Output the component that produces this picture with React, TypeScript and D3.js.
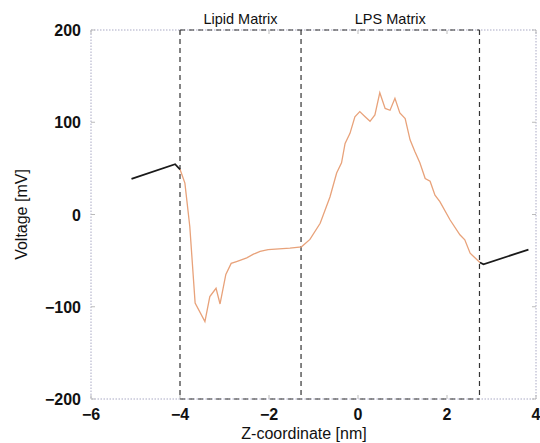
import React from 'react';
import * as d3 from 'd3';

// values
const leftX = [-5.09, -4.11, -4.0];
const leftY = [38.6, 54.5, 49];

const midX = [-4.0, -3.89, -3.78, -3.66, -3.44, -3.33, -3.19, -3.1, -2.97, -2.85, -2.73, -2.5, -2.35, -2.2, -2.02,
  -1.53, -1.27, -1.08, -0.85, -0.63, -0.48, -0.37, -0.29, -0.18, -0.07, 0.04, 0.16, 0.27, 0.38, 0.49, 0.61, 0.72,
  0.83, 0.94, 1.06, 1.17, 1.28, 1.39, 1.51, 1.62, 1.73, 1.84, 2.07, 2.29, 2.4, 2.52, 2.74];
const midY = [49, 34, -13, -96, -116, -89, -80, -97, -65, -53, -51, -47, -43, -40, -38,
  -36.5, -35, -27, -9.5, 19, 45, 56, 77, 88, 106, 111.5, 106, 101, 108, 132, 115, 113,
  126, 110, 104, 81, 68, 56, 39, 36, 21, 14, -6, -22, -27.5, -42, -52];

const rightX = [2.74, 2.82, 3.83];
const rightY = [-52, -54, -38];

const regionNames = ['Lipid Matrix', 'LPS Matrix'];
const regionEdges = [-4.0, -1.28, 2.73];

const xTicks = [-6, -4, -2, 0, 2, 4];
const yTicks = [-200, -100, 0, 100, 200];

const W = 540;
const H = 443;
const left = 91;
const right = 536;
const top = 30;
const bottom = 399;
const font = 'Liberation Sans, Arial, sans-serif';

const fmt = (t: number) => (t < 0 ? '\u2212' + Math.abs(t) : String(t));

export default function App() {
  const x = d3.scaleLinear().domain([-6, 4]).range([left, right]);
  const y = d3.scaleLinear().domain([-200, 200]).range([bottom, top]);

  const line = d3.line<[number, number]>()
    .x(d => x(d[0]))
    .y(d => y(d[1]));

  const pts = (xs: number[], ys: number[]) => xs.map((v, i) => [v, ys[i]] as [number, number]);
  const dash = '5,4';
  const first = regionEdges[0];
  const last = regionEdges[regionEdges.length - 1];

  return (
    <svg width={W} height={H} style={{ position: 'absolute', left: 0, top: 0, background: '#fff' }}>
      {/* frame */}
      <rect x={left} y={top} width={right - left} height={bottom - top} fill="none"
        stroke="#a9a9c4" strokeWidth={1} strokeDasharray="1.5,1.5" />

      {/* ticks on all sides */}
      {xTicks.map(t => (
        <g key={'xt' + t}>
          <line x1={x(t)} x2={x(t)} y1={bottom} y2={bottom - 4} stroke="#bbb" />
          <line x1={x(t)} x2={x(t)} y1={top} y2={top + 4} stroke="#bbb" />
          <text x={x(t)} y={bottom + 21} textAnchor="middle" fontFamily={font} fontSize={16}
            fontWeight="bold" fill="#111">{fmt(t)}</text>
        </g>
      ))}
      {yTicks.map(t => (
        <g key={'yt' + t}>
          <line x1={left} x2={left + 4} y1={y(t)} y2={y(t)} stroke="#bbb" />
          <line x1={right} x2={right - 4} y1={y(t)} y2={y(t)} stroke="#bbb" />
          <text x={left - 10} y={y(t) + 6} textAnchor="end" fontFamily={font} fontSize={16}
            fontWeight="bold" fill="#111">{fmt(t)}</text>
        </g>
      ))}

      {/* region boundaries */}
      <line x1={x(first)} x2={x(last)} y1={top} y2={top} stroke="#333" strokeWidth={1.2} strokeDasharray={dash} />
      <line x1={x(first)} x2={x(last)} y1={bottom} y2={bottom} stroke="#333" strokeWidth={1.2} strokeDasharray={dash} />
      {regionEdges.map(e => (
        <line key={'e' + e} x1={x(e)} x2={x(e)} y1={top} y2={bottom} stroke="#333" strokeWidth={1.2}
          strokeDasharray={dash} />
      ))}
      {regionNames.map((n, i) => (
        <text key={n} x={(x(regionEdges[i]) + x(regionEdges[i + 1])) / 2} y={top - 6} textAnchor="middle"
          fontFamily={font} fontSize={14.5} fill="#111">{n}</text>
      ))}

      {/* curves */}
      <path d={line(pts(midX, midY)) || ''} fill="none" stroke="#e8a27a" strokeWidth={1.3} />
      <path d={line(pts(leftX, leftY)) || ''} fill="none" stroke="#1a1a1a" strokeWidth={1.8} />
      <path d={line(pts(rightX, rightY)) || ''} fill="none" stroke="#1a1a1a" strokeWidth={1.8} />

      {/* axis labels */}
      <text x={304} y={439} textAnchor="middle" fontFamily={font} fontSize={16} fill="#111">
        Z-coordinate [nm]
      </text>
      <text transform={`translate(27,${(top + bottom) / 2}) rotate(-90)`} textAnchor="middle"
        fontFamily={font} fontSize={16} fill="#111">Voltage [mV]</text>
    </svg>
  );
}
